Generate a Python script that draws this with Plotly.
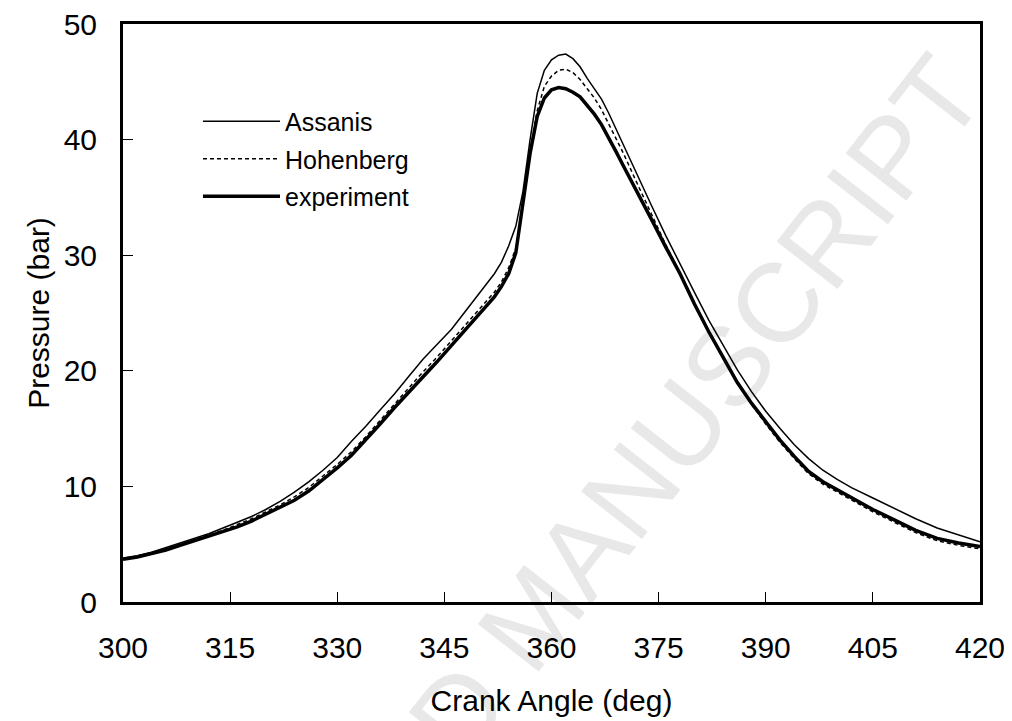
import plotly.graph_objects as go

# Crank angle (deg) and cylinder pressure (bar)
exp_angle = [300, 302, 304, 306, 308, 310, 312, 314, 316, 318, 320, 322, 324, 326, 328, 330,
             332, 334, 336, 338, 340, 342, 344, 346, 348, 350, 352, 353, 354, 355, 356, 357,
             358, 359, 360, 361, 362, 363, 364, 365, 366, 367, 368, 369, 370, 372, 374, 376,
             378, 380, 382, 384, 386, 388, 390, 392, 394, 396, 398, 400, 402, 405, 408, 411,
             414, 417, 420]
exp_p = [3.7, 3.9, 4.2, 4.5, 4.9, 5.3, 5.7, 6.1, 6.5, 7.0, 7.6, 8.2, 8.8, 9.6, 10.6, 11.6,
         12.7, 14.0, 15.4, 16.8, 18.1, 19.5, 20.8, 22.2, 23.6, 25.0, 26.4, 27.3, 28.4, 30.2, 34.5, 38.8,
         42.0, 43.6, 44.3, 44.5, 44.4, 44.1, 43.7, 43.0, 42.2, 41.3, 40.2, 39.0, 37.8, 35.5, 33.1, 30.7,
         28.4, 25.8, 23.4, 21.2, 19.0, 17.2, 15.6, 14.0, 12.6, 11.3, 10.4, 9.7, 9.0, 8.0, 7.1, 6.2,
         5.5, 5.1, 4.8]

ass_angle = [300, 302, 304, 306, 308, 310, 312, 314, 316, 318, 320, 322, 324, 326, 328, 330,
             332, 334, 336, 338, 340, 342, 344, 346, 348, 350, 352, 353, 354, 355, 356, 357,
             358, 359, 360, 361, 362, 363, 364, 365, 366, 367, 368, 370, 372, 374, 376, 378,
             380, 382, 384, 386, 388, 390, 392, 394, 396, 398, 400, 402, 405, 408, 411, 414,
             417, 420]
ass_p = [3.8, 4.0, 4.3, 4.7, 5.1, 5.5, 5.9, 6.4, 6.9, 7.4, 8.0, 8.7, 9.5, 10.4, 11.4, 12.5,
         13.9, 15.2, 16.6, 18.0, 19.5, 21.0, 22.3, 23.6, 25.2, 26.8, 28.4, 29.4, 30.8, 32.5, 35.5, 40.0,
         44.0, 46.0, 46.9, 47.3, 47.4, 47.0, 46.3, 45.3, 44.4, 43.5, 42.3, 39.6, 36.9, 34.3, 31.7, 29.2,
         26.8, 24.4, 22.2, 20.1, 18.2, 16.5, 15.0, 13.6, 12.4, 11.4, 10.6, 9.9, 9.0, 8.1, 7.2, 6.4,
         5.8, 5.2]

hoh_angle = [300, 302, 304, 306, 308, 310, 312, 314, 316, 318, 320, 322, 324, 326, 328, 330,
             332, 334, 336, 338, 340, 342, 344, 346, 348, 350, 352, 353, 354, 355, 356, 357,
             358, 359, 360, 361, 362, 363, 364, 365, 366, 367, 368, 370, 372, 374, 376, 378,
             380, 382, 384, 386, 388, 390, 392, 394, 396, 398, 400, 402, 405, 408, 411, 414,
             417, 420]
hoh_p = [3.7, 3.95, 4.25, 4.6, 5.0, 5.4, 5.8, 6.2, 6.7, 7.2, 7.8, 8.4, 9.1, 9.9, 10.9, 11.9,
         13.0, 14.3, 15.7, 17.1, 18.5, 19.9, 21.2, 22.6, 24.0, 25.4, 26.8, 27.7, 28.9, 30.6, 34.5, 39.0,
         42.5, 44.6, 45.5, 46.0, 46.1, 45.8, 45.2, 44.4, 43.6, 42.6, 41.4, 38.9, 36.2, 33.5, 30.9, 28.4,
         25.8, 23.4, 21.1, 19.0, 17.1, 15.4, 13.8, 12.4, 11.1, 10.2, 9.5, 8.8, 7.8, 6.9, 6.0, 5.3,
         4.9, 4.6]

x_ticks = [300, 315, 330, 345, 360, 375, 390, 405, 420]
y_ticks = [0, 10, 20, 30, 40, 50]

FONT = "Liberation Sans, Arial, sans-serif"

fig = go.Figure()
fig.add_trace(go.Scatter(x=ass_angle, y=ass_p, mode="lines", name="Assanis", legendgroup="a",
                         line=dict(color="black", width=1.5)))
fig.add_trace(go.Scatter(x=hoh_angle, y=hoh_p, mode="lines", name="Hohenberg", legendgroup="h",
                         line=dict(color="black", width=1.5, dash="4px,3px")))
fig.add_trace(go.Scatter(x=exp_angle, y=exp_p, mode="lines", name="experiment", legendgroup="e",
                         line=dict(color="black", width=3.5)))

fig.update_layout(
    width=1012, height=721,
    margin=dict(l=123, r=32, t=24, b=119, autoexpand=False),
    paper_bgcolor="white", plot_bgcolor="white",
    font=dict(family=FONT, color="black", size=30),
    showlegend=True,
    legend=dict(x=0.0875, y=0.871, xanchor="left", yanchor="top",
                bgcolor="rgba(0,0,0,0)", font=dict(size=25), itemwidth=77,
                tracegroupgap=2),
    shapes=[dict(type="line", xref="paper", yref="paper",
                 x0=0.520, y0=-0.075, x1=0.532, y1=-0.093,
                 line=dict(width=0, color="rgba(0,0,0,0)"), layer="below",
                 label=dict(text="ACCEPTED MANUSCRIPT", textangle=-52,
                            font=dict(size=112, color="#e8e8e8", family=FONT),
                            textposition="middle"))],
)
fig.update_xaxes(range=[300, 420], tickvals=x_ticks, ticks="inside", ticklen=10,
                 tickwidth=1, tickcolor="black", showline=True, linewidth=3,
                 linecolor="black", mirror=True, showgrid=False, zeroline=False,
                 automargin=False,
                 ticklabelstandoff=17, tickfont=dict(size=30),
                 title=dict(text="Crank Angle (deg)", font=dict(size=30), standoff=27))
fig.update_yaxes(range=[0, 50], tickvals=y_ticks, ticks="inside", ticklen=10,
                 tickwidth=1, tickcolor="black", showline=True, linewidth=3,
                 linecolor="black", mirror=True, showgrid=False, zeroline=False,
                 automargin=False,
                 ticklabelstandoff=17, tickfont=dict(size=30),
                 title=dict(text="Pressure (bar)", font=dict(size=30), standoff=6))

fig.write_html("out.html", post_script="document.body.style.margin='0';",
               config={"displayModeBar": False, "staticPlot": True})
